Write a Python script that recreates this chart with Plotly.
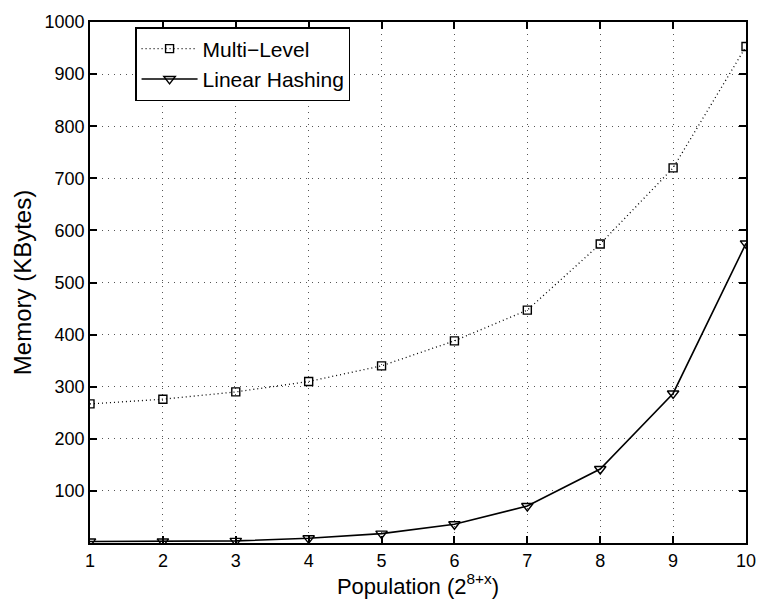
import plotly.graph_objects as go

x = [1, 2, 3, 4, 5, 6, 7, 8, 9, 10]
multi_level = [267, 276, 290, 310, 340, 388, 447, 574, 720, 953]
linear_hashing = [3, 3, 4, 9, 18, 36, 71, 142, 287, 575]
y_ticks = [100, 200, 300, 400, 500, 600, 700, 800, 900, 1000]

FONT = "Liberation Sans, Arial, Helvetica"

fig = go.Figure()
fig.add_trace(go.Scatter(
    x=x, y=multi_level, name="Multi\u2212Level", mode="lines+markers",
    line=dict(color="black", width=1.3, dash="1px,3px"),
    marker=dict(symbol="square-open", size=8, color="black", line=dict(width=1.4)),
))
fig.add_trace(go.Scatter(
    x=x, y=linear_hashing, name="Linear Hashing", mode="lines+markers",
    line=dict(color="black", width=1.6),
    marker=dict(symbol="triangle-down-open", size=10, color="black", line=dict(width=1.4)),
))

axis_common = dict(
    showline=True, linecolor="black", linewidth=1.8, mirror="ticks",
    ticks="inside", ticklen=7, tickcolor="black", tickwidth=1.5,
    showgrid=True, gridcolor="#555", griddash="1px,5px", gridwidth=1.2,
    zeroline=False, tickfont=dict(family=FONT, size=18, color="black"),
)
fig.update_xaxes(range=[1, 10], tickvals=x,
                 title=dict(text="Population (2<sup>8+x</sup>)", font=dict(size=22, family=FONT, color="black"), standoff=5),
                 **axis_common)
fig.update_yaxes(range=[0, 1000], tickvals=y_ticks,
                 title=dict(text="Memory (KBytes)", font=dict(size=24, family=FONT, color="black"), standoff=6),
                 **axis_common)

fig.update_layout(
    width=768, height=609,
    margin=dict(l=90, r=13, t=16, b=66),
    plot_bgcolor="white", paper_bgcolor="white",
    font=dict(family=FONT, color="black"),
    showlegend=True,
    legend=dict(x=0.069, y=0.99, xanchor="left", yanchor="top",
                bgcolor="white", bordercolor="black", borderwidth=1.3,
                font=dict(size=21, family=FONT, color="black"),
                tracegroupgap=0, itemwidth=56),
)
fig.write_html("out.html")
